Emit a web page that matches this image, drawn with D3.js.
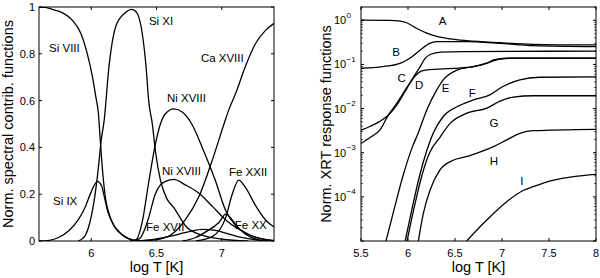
<!DOCTYPE html>
<html><head><meta charset="utf-8">
<script src="https://cdn.jsdelivr.net/npm/d3@7"></script>
<style>
body{margin:0;background:#fff;}
svg{display:block;font-family:"Liberation Sans",Arial,Helvetica,sans-serif;}
</style></head>
<body><svg id="c" width="600" height="278"></svg>
<script>
// ---------- Left panel data: [log T, normalized contribution] ----------
const siVIII = [[5.6,1.0],[5.65,0.998],[5.7,0.99],[5.78,0.975],[5.855,0.944],[5.92,0.888],[5.97,0.80],[6.01,0.70],[6.034,0.62],[6.054,0.55],[6.072,0.41],[6.09,0.28],[6.11,0.18],[6.14,0.11],[6.18,0.06],[6.24,0.025],[6.34,0.0]];
const siIX = [[5.6,0.0],[5.68,0.003],[5.75,0.015],[5.83,0.045],[5.9,0.09],[5.95,0.14],[6.0,0.21],[6.047,0.255],[6.08,0.235],[6.1,0.19],[6.13,0.12],[6.17,0.07],[6.22,0.035],[6.28,0.012],[6.34,0.0]];
const siXI = [[5.9,0.0],[5.95,0.02],[5.99,0.08],[6.03,0.2],[6.06,0.34],[6.072,0.41],[6.1,0.52],[6.136,0.745],[6.19,0.92],[6.26,0.975],[6.31,0.99],[6.35,0.975],[6.39,0.89],[6.42,0.745],[6.44,0.6],[6.468,0.5],[6.494,0.375],[6.53,0.26],[6.58,0.18],[6.63,0.145],[6.73,0.06],[6.85,0.025],[7.0,0.008],[7.2,0.0]];
const niXVIIIa = [[6.3,0.0],[6.34,0.004],[6.39,0.08],[6.44,0.25],[6.49,0.41],[6.53,0.5],[6.57,0.545],[6.634,0.565],[6.70,0.55],[6.77,0.5],[6.85,0.40],[6.95,0.26],[7.03,0.13],[7.1,0.07],[7.2,0.03],[7.3,0.01],[7.4,0.002]];
const niXVIIIb = [[6.3,0.0],[6.37,0.01],[6.41,0.05],[6.44,0.10],[6.49,0.20],[6.53,0.24],[6.57,0.255],[6.634,0.263],[6.72,0.24],[6.825,0.204],[6.93,0.147],[7.03,0.09],[7.13,0.05],[7.26,0.015],[7.4,0.002]];
const caXVIII = [[6.3,0.0],[6.49,0.005],[6.62,0.03],[6.72,0.09],[6.825,0.19],[6.93,0.35],[7.017,0.5],[7.06,0.57],[7.106,0.63],[7.18,0.745],[7.26,0.845],[7.335,0.9],[7.4,0.93]];
const feXXII = [[6.8,0.0],[6.93,0.02],[7.03,0.1],[7.08,0.2],[7.13,0.26],[7.18,0.23],[7.26,0.15],[7.335,0.09],[7.4,0.06]];
const feXX = [[6.7,0.0],[6.8,0.015],[6.88,0.04],[6.98,0.08],[7.03,0.115],[7.08,0.09],[7.13,0.055],[7.18,0.03],[7.28,0.005],[7.35,0.0]];
const feXVII = [[6.3,0.0],[6.45,0.005],[6.6,0.02],[6.75,0.04],[6.85,0.05],[6.95,0.045],[7.05,0.03],[7.15,0.015],[7.3,0.003],[7.4,0.0]];
const leftSeries = [siVIII, siIX, siXI, niXVIIIa, niXVIIIb, caXVIII, feXXII, feXX, feXVII];
const leftLabels = ["Si VIII","Si XI","Ca XVIII","Ni XVIII","Ni XVIII","Fe XXII","Si IX","Fe XVII","Fe XX"];
const leftLabelAt = [[5.677,0.808],[6.442,0.923],[6.84,0.765],[6.58,0.594],[6.542,0.282],[7.055,0.278],[5.707,0.154],[6.42,0.043],[7.10,0.051]];
const leftXTicks = [6, 6.5, 7];
const leftYTicks = [0, 0.2, 0.4, 0.6, 0.8, 1];

// ---------- Right panel data: [log T, normalized XRT response] ----------
const respA = [[5.5,1.01],[5.8,1.0],[5.9,0.97],[5.986,0.88],[6.09,0.66],[6.2,0.51],[6.305,0.43],[6.447,0.38],[6.624,0.346],[6.98,0.31],[7.33,0.286],[8.0,0.276]];
const respB = [[5.5,0.082],[5.73,0.089],[5.915,0.106],[6.02,0.138],[6.13,0.212],[6.23,0.30],[6.305,0.327],[6.62,0.327],[6.98,0.30],[7.33,0.266],[8.0,0.252]];
const respC = [[5.5,0.00324],[5.6,0.00398],[5.7,0.00513],[5.79,0.00708],[5.88,0.0120],[5.95,0.0209],[6.0,0.0316],[6.06,0.0525],[6.13,0.0891],[6.18,0.135],[6.24,0.170],[6.35,0.191],[6.6,0.195],[8.0,0.200]];
const respD = [[5.5,0.00162],[5.6,0.00224],[5.7,0.00324],[5.79,0.00708],[5.88,0.0132],[5.95,0.0224],[6.02,0.0380],[6.08,0.0562],[6.14,0.0708],[6.22,0.0759],[6.48,0.0813],[6.7,0.0891],[6.84,0.107],[6.91,0.126],[7.05,0.138],[8.0,0.138]];
const respE = [[5.766,0.00001],[5.85,0.00005],[5.95,0.000316],[6.05,0.00141],[6.1,0.00251],[6.2,0.00933],[6.3,0.0251],[6.375,0.0447],[6.52,0.0741],[6.69,0.0891],[6.84,0.107],[6.95,0.129],[7.1,0.138],[8.0,0.138]];
const respF = [[5.97,0.00001],[6.05,0.000063],[6.12,0.000282],[6.2,0.00112],[6.27,0.00282],[6.375,0.00661],[6.52,0.0110],[6.69,0.0155],[6.87,0.0204],[7.01,0.0316],[7.19,0.0447],[7.4,0.0513],[8.0,0.0525]];
const respG = [[5.99,0.00001],[6.07,0.000063],[6.15,0.000316],[6.23,0.001],[6.34,0.00224],[6.45,0.00468],[6.62,0.00776],[6.84,0.0102],[6.98,0.0148],[7.12,0.0182],[7.33,0.0195],[8.0,0.0195]];
const respH = [[6.11,0.00001],[6.164,0.0000427],[6.234,0.000141],[6.34,0.000407],[6.48,0.000676],[6.62,0.000813],[6.77,0.00105],[6.91,0.00138],[7.05,0.00195],[7.19,0.00275],[7.33,0.00316],[8.0,0.00339]];
const respI = [[6.624,0.00001],[6.84,0.0000302],[7.05,0.0000776],[7.23,0.000141],[7.33,0.00017],[7.55,0.00024],[7.76,0.000288],[8.0,0.000324]];
const rightSeries = [respA, respB, respC, respD, respE, respF, respG, respH, respI];
const rightLabels = ["A","B","C","D","E","F","G","H","I"];
const rightLabelAt = [[6.369,0.98],[5.872,0.188],[5.933,0.0485],[6.12,0.0342],[6.40,0.0288],[6.684,0.0229],[6.915,0.00463],[6.915,0.000648],[7.21,0.000232]];
const rightXTicks = [5.5, 6, 6.5, 7, 7.5, 8];
const rightYExp = [0, -1, -2, -3, -4];

const svg = d3.select("#c");
const pTop = 7, pBottom = 241;
const tickFont = 11, annFont = 11.5, axFont = 14.5;

function frame(g, x0, x1, id){
  g.append("clipPath").attr("id", id).append("rect")
    .attr("x", x0).attr("y", pTop).attr("width", x1 - x0).attr("height", pBottom - pTop);
}
function box(g, x0, x1){
  g.append("rect").attr("x", x0).attr("y", pTop).attr("width", x1 - x0).attr("height", pBottom - pTop)
    .attr("fill", "none").attr("stroke", "#000").attr("stroke-width", 1);
}

// ---------------- Left panel ----------------
{
  const L = 39, R = 274;
  const x = d3.scaleLinear().domain([5.6, 7.4]).range([L, R]);
  const y = d3.scaleLinear().domain([0, 1]).range([pBottom, pTop]);
  const g = svg.append("g");
  frame(g, L, R, "clipL");
  const line = d3.line().x(d => x(d[0])).y(d => y(d[1])).curve(d3.curveMonotoneX);
  g.append("g").attr("clip-path", "url(#clipL)").selectAll("path").data(leftSeries).join("path")
    .attr("d", line).attr("fill", "none").attr("stroke", "#000").attr("stroke-width", 1.3);
  box(g, L, R);
  const tk = 3;
  leftXTicks.forEach(t => {
    g.append("line").attr("x1", x(t)).attr("x2", x(t)).attr("y1", pBottom).attr("y2", pBottom - tk).attr("stroke", "#000");
    g.append("line").attr("x1", x(t)).attr("x2", x(t)).attr("y1", pTop).attr("y2", pTop + tk).attr("stroke", "#000");
    g.append("text").attr("x", x(t)).attr("y", 257).attr("text-anchor", "middle").attr("font-size", tickFont).text(d3.format("")(t));
  });
  leftYTicks.forEach(t => {
    g.append("line").attr("x1", L).attr("x2", L + tk).attr("y1", y(t)).attr("y2", y(t)).attr("stroke", "#000");
    g.append("line").attr("x1", R).attr("x2", R - tk).attr("y1", y(t)).attr("y2", y(t)).attr("stroke", "#000");
    g.append("text").attr("x", 35).attr("y", y(t) + 4).attr("text-anchor", "end").attr("font-size", tickFont).text(d3.format("")(t));
  });
  leftLabels.forEach((s, i) => {
    g.append("text").attr("x", x(leftLabelAt[i][0])).attr("y", y(leftLabelAt[i][1])).attr("font-size", annFont).text(s);
  });
  g.append("text").attr("x", (L + R) / 2).attr("y", 272).attr("text-anchor", "middle").attr("font-size", axFont).text("log T [K]");
  g.append("text").attr("transform", `translate(13,${(pTop + pBottom) / 2}) rotate(-90)`).attr("text-anchor", "middle")
    .attr("font-size", axFont).text("Norm. spectral contrib. functions");
}

// ---------------- Right panel ----------------
{
  const L = 361, R = 596;
  const x = d3.scaleLinear().domain([5.5, 8]).range([L, R]);
  const y = d3.scaleLog().domain([1e-5, 2]).range([pBottom, pTop]);
  const g = svg.append("g");
  frame(g, L, R, "clipR");
  const line = d3.line().x(d => x(d[0])).y(d => y(d[1])).curve(d3.curveMonotoneX);
  g.append("g").attr("clip-path", "url(#clipR)").selectAll("path").data(rightSeries).join("path")
    .attr("d", line).attr("fill", "none").attr("stroke", "#000").attr("stroke-width", 1.3);
  box(g, L, R);
  const tk = 3, mtk = 1.8;
  rightXTicks.forEach(t => {
    g.append("line").attr("x1", x(t)).attr("x2", x(t)).attr("y1", pBottom).attr("y2", pBottom - tk).attr("stroke", "#000");
    g.append("line").attr("x1", x(t)).attr("x2", x(t)).attr("y1", pTop).attr("y2", pTop + tk).attr("stroke", "#000");
    g.append("text").attr("x", x(t)).attr("y", 257).attr("text-anchor", "middle").attr("font-size", tickFont).text(d3.format("")(t));
  });
  for (let e = -5; e <= 0; e++) {
    for (let m = 2; m <= 9; m++) {
      const v = m * Math.pow(10, e);
      if (v > 2) continue;
      g.append("line").attr("x1", L).attr("x2", L + mtk).attr("y1", y(v)).attr("y2", y(v)).attr("stroke", "#000").attr("stroke-width", 0.8);
      g.append("line").attr("x1", R).attr("x2", R - mtk).attr("y1", y(v)).attr("y2", y(v)).attr("stroke", "#000").attr("stroke-width", 0.8);
    }
  }
  [-5, ...rightYExp].forEach(e => {
    const v = Math.pow(10, e);
    g.append("line").attr("x1", L).attr("x2", L + tk).attr("y1", y(v)).attr("y2", y(v)).attr("stroke", "#000");
    g.append("line").attr("x1", R).attr("x2", R - tk).attr("y1", y(v)).attr("y2", y(v)).attr("stroke", "#000");
  });
  rightYExp.forEach(e => {
    const v = Math.pow(10, e);
    g.append("text").attr("x", 334).attr("y", y(v) + 4).attr("font-size", tickFont).text("10");
    g.append("text").attr("x", 346.5).attr("y", y(v) - 2.5).attr("font-size", 8).text(e === 0 ? "0" : "\u2212" + Math.abs(e));
  });
  rightLabels.forEach((s, i) => {
    g.append("text").attr("x", x(rightLabelAt[i][0])).attr("y", y(rightLabelAt[i][1]) + 4).attr("text-anchor", "middle")
      .attr("font-size", annFont).text(s);
  });
  g.append("text").attr("x", (L + R) / 2).attr("y", 272).attr("text-anchor", "middle").attr("font-size", axFont).text("log T [K]");
  g.append("text").attr("transform", `translate(331,${(pTop + pBottom) / 2}) rotate(-90)`).attr("text-anchor", "middle")
    .attr("font-size", axFont).text("Norm. XRT response functions");
}
</script></body></html>
